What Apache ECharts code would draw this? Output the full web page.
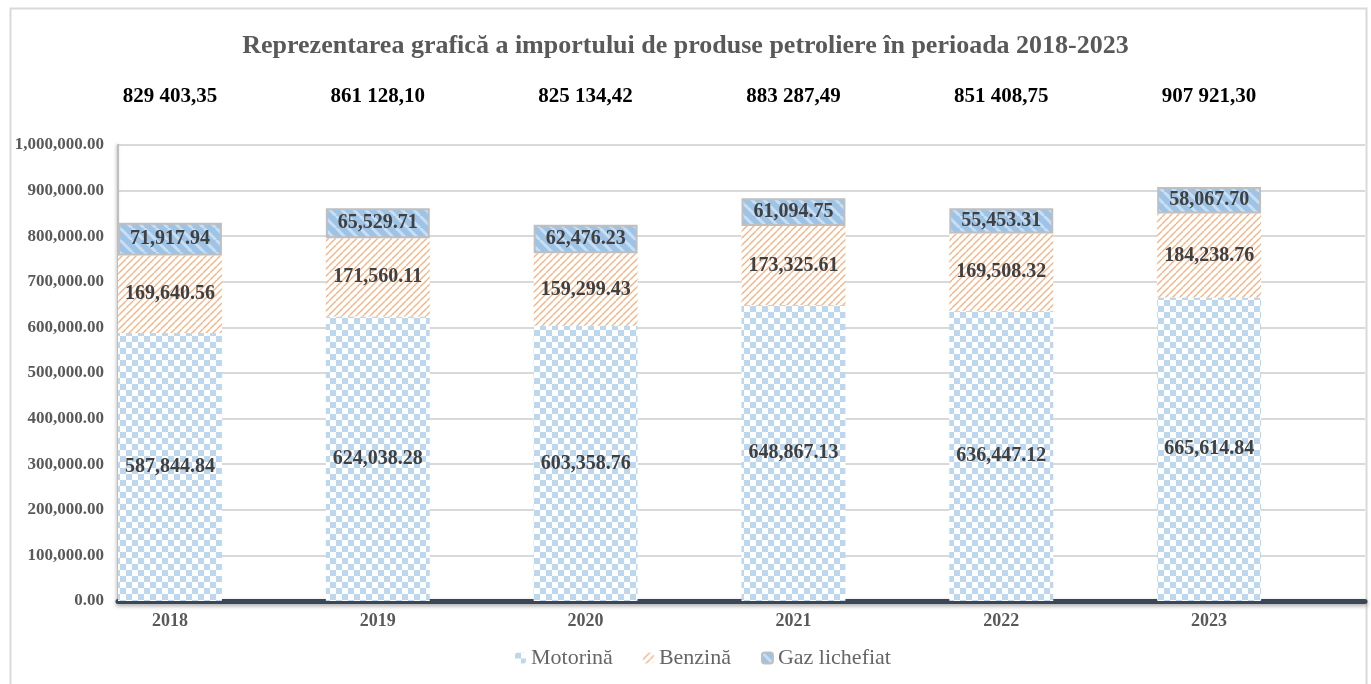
<!DOCTYPE html>
<html>
<head>
<meta charset="UTF-8">
<title>Importul de produse petroliere 2018-2023</title>
<script type="text/javascript" src="https://cdn.jsdelivr.net/npm/echarts@6/dist/echarts.min.js"></script>
<style type="text/css">
html, body { margin: 0; padding: 0; background: #fff; }
#chart { width: 1371px; height: 684px; }
</style>
</head>
<body>
	<div id="chart"></div>
<script type="text/javascript">
	var years = ['2018', '2019', '2020', '2021', '2022', '2023'];
	var motorina = [587844.84, 624038.28, 603358.76, 648867.13, 636447.12, 665614.84];
	var benzina = [169640.56, 171560.11, 159299.43, 173325.61, 169508.32, 184238.76];
	var gaz = [71917.94, 65529.71, 62476.23, 61094.75, 55453.31, 58067.70];
	var totals = ['829 403,35', '861 128,10', '825 134,42', '883 287,49', '851 408,75', '907 921,30'];

	var serif = '"Liberation Serif", "DejaVu Serif", serif';

	function fmt(v) {
		return Number(v).toLocaleString('en-US', { minimumFractionDigits: 2, maximumFractionDigits: 2 });
	}

	// fill patterns like the excel ones
	function checker() {
		var c = document.createElement('canvas');
		c.width = 12; c.height = 12;
		var g = c.getContext('2d');
		g.fillStyle = '#ffffff'; g.fillRect(0, 0, 12, 12);
		g.fillStyle = '#bdd7ee';
		g.fillRect(0, 0, 6, 6);
		g.fillRect(6, 6, 6, 6);
		return c;
	}
	function stripes(size, bg, fg, lw, down) {
		var c = document.createElement('canvas');
		c.width = size; c.height = size;
		var g = c.getContext('2d');
		g.fillStyle = bg; g.fillRect(0, 0, size, size);
		g.strokeStyle = fg; g.lineWidth = lw;
		for (var k = -1; k <= 1; k++) {
			g.beginPath();
			if (down) {
				g.moveTo(k * size, 0); g.lineTo(k * size + size, size);
			} else {
				g.moveTo(k * size, size); g.lineTo(k * size + size, 0);
			}
			g.stroke();
		}
		return c;
	}
	var pMot = { image: checker(), repeat: 'repeat' };
	var pBen = { image: stripes(7, '#ffffff', '#f4b183', 1.3, false), repeat: 'repeat' };
	var pGaz = { image: stripes(12, '#9dc3e6', '#c9def2', 3, true), repeat: 'repeat' };

	var lbl = {
		show: true,
		position: 'inside',
		fontFamily: serif,
		fontWeight: 'bold',
		fontSize: 20,
		color: '#404040',
		formatter: function(p) { return fmt(p.value); }
	};

	var yearLabels = years.map(function(y) { return '{a|' + y + '}'; });
	var totalLabels = totals.map(function(t) { return '{a|' + t + '}'; });

	var myChart = echarts.init(document.getElementById('chart'));
	var option = {
		animation: false,
		backgroundColor: '#ffffff',
		title: {
			text: 'Reprezentarea grafică a importului de produse petroliere în perioada 2018-2023',
			left: 'center',
			top: 28,
			textStyle: { fontFamily: serif, fontWeight: 'bold', fontSize: 26, color: '#595959' }
		},
		graphic: [{
			type: 'rect',
			shape: { x: 10.5, y: 8.5, width: 1356, height: 700 },
			style: { fill: 'none', stroke: '#d9d9d9', lineWidth: 2 },
			silent: true
		}],
		legend: {
			bottom: 10,
			left: 510,
			itemWidth: 11,
			itemHeight: 11,
			itemGap: 30,
			data: ['Motorină', 'Benzină', 'Gaz lichefiat'],
			textStyle: { fontFamily: serif, fontSize: 22, color: '#666666' }
		},
		grid: { left: 118, right: 6, top: 145, bottom: 83 },
		xAxis: [{
			type: 'category',
			data: yearLabels,
			axisTick: { show: false },
			axisLine: {
				lineStyle: { color: '#3b4757', width: 5, shadowColor: 'rgba(0,0,0,0.35)', shadowBlur: 4, shadowOffsetY: 2 }
			},
			axisLabel: {
				margin: 11,
				rich: { a: { fontFamily: serif, fontWeight: 'bold', fontSize: 18, color: '#595959', padding: [0, 104, 0, 0] } }
			}
		}, {
			type: 'category',
			position: 'top',
			data: totalLabels,
			axisTick: { show: false },
			axisLine: { show: false },
			axisLabel: {
				margin: 38,
				rich: { a: { fontFamily: serif, fontWeight: 'bold', fontSize: 21, color: '#000000', padding: [0, 104, 0, 0] } }
			}
		}],
		yAxis: {
			type: 'value',
			min: 0,
			max: 1000000,
			interval: 100000,
			axisLine: { show: true, lineStyle: { color: '#bfbfbf', width: 2, shadowColor: 'rgba(0,0,0,0.25)', shadowBlur: 3, shadowOffsetX: -1 } },
			axisTick: { show: false },
			splitLine: { lineStyle: { color: '#d9d9d9', width: 2 } },
			axisLabel: {
				margin: 14,
				fontFamily: serif,
				fontWeight: 'bold',
				fontSize: 17,
				color: '#595959',
				formatter: function(v) { return fmt(v); }
			}
		},
		series: [{
			name: 'Motorină',
			type: 'bar',
			stack: 'total',
			barGap: '0%',
			barCategoryGap: '0%',
			data: motorina,
			itemStyle: { color: pMot },
			label: lbl
		}, {
			name: 'Benzină',
			type: 'bar',
			stack: 'total',
			data: benzina,
			itemStyle: { color: pBen },
			label: lbl
		}, {
			name: 'Gaz lichefiat',
			type: 'bar',
			stack: 'total',
			data: gaz,
			itemStyle: { color: pGaz, borderColor: '#bfbfbf', borderWidth: 2 },
			label: lbl
		}, {
			// empty half of each category, keeps bars on the left like in excel
			name: 'spacer',
			type: 'bar',
			stack: 'pad',
			data: years.map(function() { return 0; }),
			itemStyle: { color: 'rgba(0,0,0,0)' },
			silent: true
		}]
	};
	myChart.setOption(option);
</script>
</body>
</html>
